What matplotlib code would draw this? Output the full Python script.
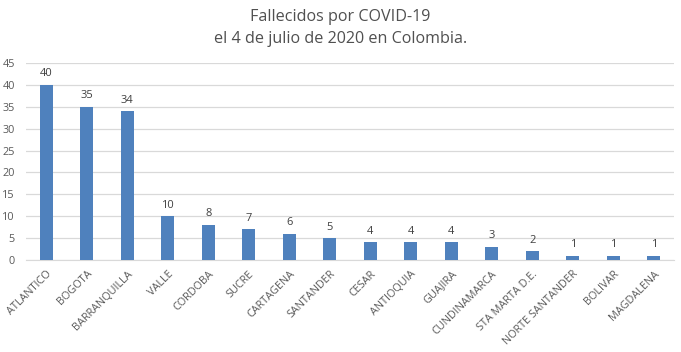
import matplotlib
matplotlib.use("Agg")
import matplotlib.pyplot as plt

categories = ["ATLANTICO", "BOGOTA", "BARRANQUILLA", "VALLE", "CORDOBA", "SUCRE",
              "CARTAGENA", "SANTANDER", "CESAR", "ANTIOQUIA", "GUAJIRA",
              "CUNDINAMARCA", "STA MARTA D.E.", "NORTE SANTANDER", "BOLIVAR", "MAGDALENA"]
values = [40, 35, 34, 10, 8, 7, 6, 5, 4, 4, 4, 3, 2, 1, 1, 1]
yticks = [0, 5, 10, 15, 20, 25, 30, 35, 40, 45]
title = "Fallecidos por COVID-19\nel 4 de julio de 2020 en Colombia."

plt.rcParams['font.family'] = ['Open Sans', 'DejaVu Sans']
txt = "#595959"

fig = plt.figure(figsize=(6.81, 3.52), dpi=100)
ax = fig.add_axes([26/681, 1-260/352, (674-26)/681, (260-63)/352])
x = list(range(len(categories)))
bars = ax.bar(x, values, width=0.32, color="#4F81BD", zorder=3)
for xi, v in zip(x, values):
    ax.annotate(str(v), (xi, v), xytext=(0, 4), textcoords="offset points",
                ha="center", va="bottom", fontsize=8, color="#404040")
ax.set_xlim(-0.5, len(categories) - 0.5)
ax.set_ylim(0, 45)
ax.set_yticks(yticks)
ax.yaxis.grid(True, color="#D9D9D9", linewidth=0.9, zorder=0)
for s in ["top", "right", "left"]:
    ax.spines[s].set_visible(False)
ax.spines["bottom"].set_color("#D9D9D9")
ax.tick_params(axis="both", length=0, labelsize=7.8, labelcolor=txt)
ax.tick_params(axis="y", pad=8)
ax.set_xticks(x)
ax.set_xticklabels(categories, rotation=45, ha="right", rotation_mode="anchor")
ax.tick_params(axis="x", pad=6)
fig.suptitle(title, y=0.975, fontsize=11.6, color="#505050", linespacing=1.55)
fig.savefig("out.png", dpi=100, facecolor="white")
